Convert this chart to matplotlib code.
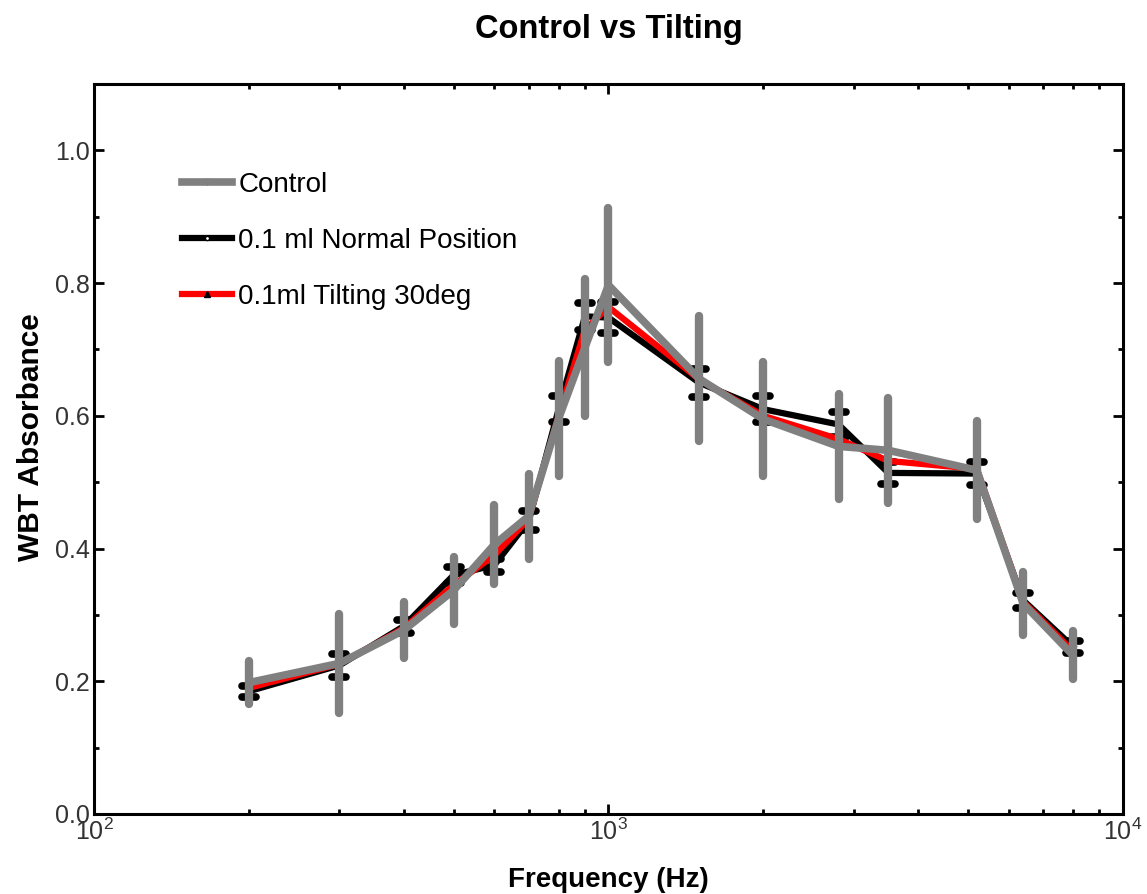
import matplotlib
matplotlib.use("Agg")
import matplotlib.pyplot as plt
from matplotlib.lines import Line2D
from matplotlib.markers import MarkerStyle
from matplotlib.ticker import LogLocator, MultipleLocator, FormatStrFormatter

plt.rcParams['font.family'] = ['Liberation Sans', 'DejaVu Sans']
plt.rcParams['mathtext.default'] = 'regular'

# Frequencies (Hz)
freqs = [200, 300, 400, 500, 600, 700, 800, 900, 1000, 1500, 2000, 2800, 3500, 5200, 6400, 8000]

# Control group: mean absorbance and SD
control = [0.198, 0.227, 0.277, 0.337, 0.406, 0.449, 0.596, 0.703, 0.797, 0.656,
           0.595, 0.554, 0.548, 0.518, 0.317, 0.239]
control_sd = [0.032, 0.075, 0.042, 0.051, 0.060, 0.064, 0.087, 0.103, 0.116, 0.094,
              0.086, 0.079, 0.079, 0.074, 0.047, 0.036]

# 0.1 ml, normal position
normal = [0.185, 0.224, 0.283, 0.360, 0.375, 0.442, 0.610, 0.750, 0.748, 0.650,
          0.610, 0.587, 0.514, 0.513, 0.322, 0.252]
normal_sd = [0.008, 0.017, 0.010, 0.012, 0.010, 0.014, 0.020, 0.020, 0.023, 0.021,
             0.020, 0.019, 0.016, 0.017, 0.011, 0.009]

# 0.1 ml, tilted 30 degrees
tilt = [0.190, 0.226, 0.280, 0.345, 0.390, 0.445, 0.600, 0.730, 0.764, 0.655,
        0.600, 0.565, 0.532, 0.520, 0.320, 0.245]
tilt_sd = [0.006, 0.012, 0.008, 0.010, 0.010, 0.012, 0.015, 0.015, 0.018, 0.015,
           0.015, 0.015, 0.012, 0.012, 0.010, 0.008]

labels = ['Control', '0.1 ml Normal Position', '0.1ml Tilting 30deg']
colors = ['#808080', '#000000', '#ff0000']

fig = plt.figure(figsize=(11.47, 8.94), dpi=100)
ax = fig.add_axes([0.082, 0.0895, 0.897, 0.8165])

eb_normal = ax.errorbar(freqs, normal, yerr=normal_sd, color=colors[1], lw=4.5,
                        elinewidth=3, capsize=5, capthick=5.5, zorder=2)
for cap in eb_normal[1]:
    cap.set_marker(MarkerStyle('_', capstyle='round'))

ax.errorbar(freqs, tilt, yerr=tilt_sd, color=colors[2], lw=4.5,
            elinewidth=3, capsize=0, zorder=3)

eb_control = ax.errorbar(freqs, control, yerr=control_sd, color=colors[0], lw=5.5,
                         elinewidth=6, capsize=0, zorder=4)
eb_control[0].set_solid_capstyle('round')
for coll in eb_control[2]:
    coll.set_capstyle('round')

ax.set_xscale('log')
ax.set_xlim(100, 10000)
ax.set_ylim(0, 1.1)

ax.xaxis.set_major_locator(LogLocator(base=10, numticks=10))
ax.xaxis.set_minor_locator(LogLocator(base=10, subs=range(2, 10), numticks=20))
ax.yaxis.set_major_locator(MultipleLocator(0.2))
ax.yaxis.set_minor_locator(MultipleLocator(0.1))
ax.yaxis.set_major_formatter(FormatStrFormatter('%.1f'))

ax.tick_params(which='both', direction='in', top=True, right=True,
               width=2, labelsize=18, labelcolor='#333333')
ax.tick_params(axis='y', pad=3)
ax.tick_params(axis='x', pad=3)
ax.tick_params(which='major', length=7)
ax.tick_params(which='minor', length=3.5)
for sp in ax.spines.values():
    sp.set_linewidth(2.2)

ax.set_title('Control vs Tilting', fontsize=23.5, fontweight='bold', pad=33)
ax.set_xlabel('Frequency (Hz)', fontsize=20, fontweight='bold', labelpad=16)
ax.set_ylabel('WBT Absorbance', fontsize=21.5, fontweight='bold')
ax.yaxis.set_label_coords(-0.048, 0.516)

handles = [
    Line2D([], [], color=colors[0], lw=5.5, marker='v', markersize=4,
           markerfacecolor=colors[0], markeredgecolor=colors[0]),
    Line2D([], [], color=colors[1], lw=4.5, marker='o', markersize=3,
           markerfacecolor='white', markeredgecolor='black'),
    Line2D([], [], color=colors[2], lw=4.5, marker='^', markersize=5,
           markerfacecolor='black', markeredgecolor='black'),
]
ax.legend(handles, labels, loc='upper left', bbox_to_anchor=(0.085, 0.88),
          frameon=False, fontsize=20, handlelength=1.8, handletextpad=0.25,
          labelspacing=1.08, borderaxespad=0, borderpad=0)

fig.savefig('out.png', dpi=100)
